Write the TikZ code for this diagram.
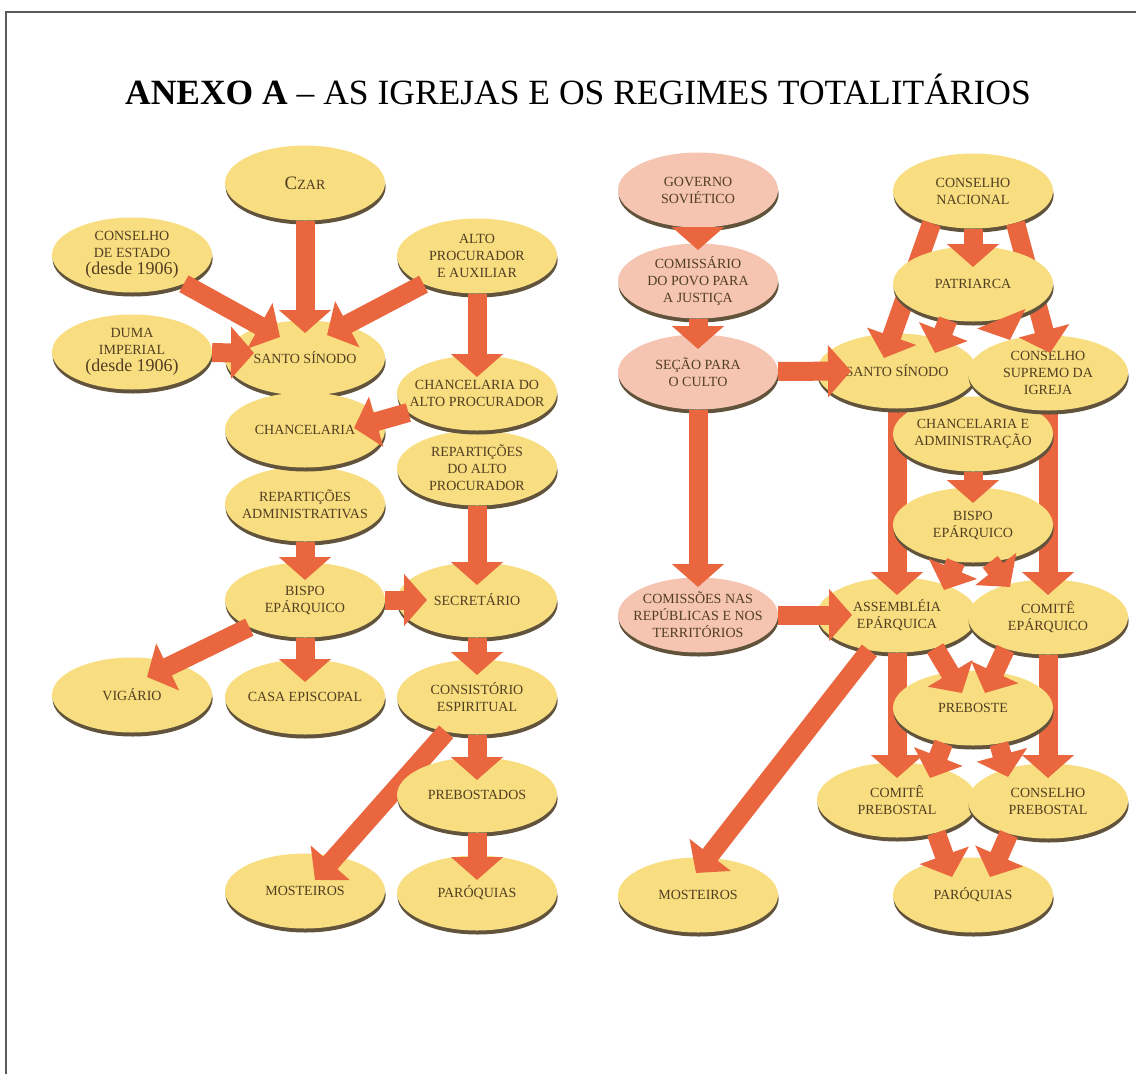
\documentclass[tikz,border=0pt]{standalone}
\usepackage{fontspec}
\setmainfont{Liberation Serif}
\usetikzlibrary{shapes.geometric,shadows,arrows.meta}

\definecolor{amarelo}{RGB}{248,222,128}
\definecolor{rosa}{RGB}{245,197,178}
\definecolor{laranja}{RGB}{233,102,62}
\definecolor{sombra}{RGB}{98,84,60}
\definecolor{texto}{RGB}{82,62,34}
\definecolor{moldura}{RGB}{90,90,90}

\pgfdeclarelayer{mid}
\pgfdeclarelayer{top}
\pgfdeclarelayer{front}
\pgfsetlayers{main,mid,top,front}

\tikzset{
  bolha/.style={ellipse, fill=amarelo, minimum width=160pt, minimum height=75pt,
    inner xsep=-30pt, inner ysep=-8pt, align=center, text=texto,
    font=\fontsize{14}{17}\selectfont,
    drop shadow={shadow xshift=0.6pt, shadow yshift=-4pt, fill=sombra, opacity=1}},
  bolharosa/.style={bolha, fill=rosa},
  seta/.style={draw=laranja, line width=19pt, -{Triangle[width=51pt,length=23pt]}}
}

\newcommand{\ano}{{\fontsize{18}{19}\selectfont (desde 1906)}}

\begin{document}
\begin{tikzpicture}[x=1pt,y=-1pt]
  \useasboundingbox (0,0) rectangle (1136,1074);
  \draw[moldura, line width=2pt] (6,1074) -- (6,12) -- (1136,12);

  \node[anchor=base, font=\fontsize{35.5}{40}\selectfont] (titulo) at (578,104)
    {\textbf{ANEXO A} -- AS IGREJAS E OS REGIMES TOTALITÁRIOS};

  % Russia imperial
  \node[bolha] (czar) at (305,183) {{\fontsize{19}{20}\selectfont C}ZAR};
  \node[bolha] (cestado) at (132,255) {CONSELHO\\DE ESTADO\\\ano};
  \node[bolha] (alto) at (477,256) {ALTO\\PROCURADOR\\E AUXILIAR};
  \node[bolha] (duma) at (132,352) {DUMA\\IMPERIAL\\\ano};
  \node[bolha] (sinodoA) at (305,358) {SANTO SÍNODO};
  \node[bolha] (repAlto) at (477,468) {REPARTIÇÕES\\DO ALTO\\PROCURADOR};
  \node[bolha] (chancAlto) at (477,393) {CHANCELARIA DO\\ALTO PROCURADOR};
  \node[bolha] (repAdm) at (305,504) {REPARTIÇÕES\\ADMINISTRATIVAS};
  \node[bolha] (chanc) at (305,430) {CHANCELARIA};
  \node[bolha] (bispoA) at (305,600) {BISPO\\EPÁRQUICO};
  \node[bolha] (secret) at (477,600) {SECRETÁRIO};
  \node[bolha] (vigario) at (132,695) {VIGÁRIO};
  \node[bolha] (casa) at (305,697) {CASA EPISCOPAL};
  \node[bolha] (consist) at (477,697) {CONSISTÓRIO\\ESPIRITUAL};
  \node[bolha] (mostA) at (305,891) {MOSTEIROS};
  \node[bolha] (parA) at (477,893) {PARÓQUIAS};
  \begin{pgfonlayer}{mid}
    \node[bolha] (prebos) at (477,795) {PREBOSTADOS};
  \end{pgfonlayer}

  % Russia sovietica
  \node[bolharosa] (governo) at (698,190) {GOVERNO\\SOVIÉTICO};
  \node[bolharosa] (comissario) at (698,281) {COMISSÁRIO\\DO POVO PARA\\A JUSTIÇA};
  \node[bolharosa] (secao) at (698,372) {SEÇÃO PARA\\O CULTO};
  \node[bolharosa] (comissoes) at (698,615) {COMISSÕES NAS\\REPÚBLICAS E NOS\\TERRITÓRIOS};
  \node[bolha] (cnac) at (973,191) {CONSELHO\\NACIONAL};
  \node[bolha] (assembleia) at (897,615) {ASSEMBLÉIA\\EPÁRQUICA};
  \node[bolha] (comiteEp) at (1048,617) {COMITÊ\\EPÁRQUICO};
  \node[bolha] (comitePreb) at (897,800) {COMITÊ\\PREBOSTAL};
  \node[bolha] (conselhoPreb) at (1048,801) {CONSELHO\\PREBOSTAL};
  \node[bolha] (mostB) at (698,895) {MOSTEIROS};
  \node[bolha] (parB) at (973,895) {PARÓQUIAS};
  \begin{pgfonlayer}{mid}
    \node[bolha] (chancAdm) at (973,434) {CHANCELARIA E\\ADMINISTRAÇÃO};
    \node[bolha] (bispoB) at (973,525) {BISPO\\EPÁRQUICO};
    \node[bolha] (preboste) at (973,708) {PREBOSTE};
  \end{pgfonlayer}
  \begin{pgfonlayer}{top}
    \node[bolha] (sinodoB) at (897,371) {SANTO SÍNODO};
    \node[bolha] (csupremo) at (1048,373) {CONSELHO\\SUPREMO DA\\IGREJA};
  \end{pgfonlayer}
  \begin{pgfonlayer}{front}
    \node[bolha] (patriarca) at (973,284) {PATRIARCA};
  \end{pgfonlayer}

  % setas
  \draw[seta] (czar) -- ([shift={(0,-25)}]sinodoA.center);
  \draw[seta] (cestado) -- ([shift={(-25,-21)}]sinodoA.center);
  \draw[seta] (alto) -- ([shift={(22,-23)}]sinodoA.center);
  \draw[seta] (duma) -- ([shift={(-51,-5)}]sinodoA.center);
  \draw[seta] (alto) -- ([shift={(0,-16)}]chancAlto.center);
  \draw[seta] (chancAlto) -- ([shift={(49,-2)}]chanc.center);
  \draw[seta] (repAlto) -- ([shift={(0,-15)}]secret.center);
  \draw[seta] (repAdm) -- ([shift={(0,-20)}]bispoA.center);
  \draw[seta] (bispoA) -- ([shift={(-50,0)}]secret.center);
  \draw[seta] (bispoA) -- ([shift={(15,-18)}]vigario.center);
  \draw[seta] (bispoA) -- ([shift={(0,-15)}]casa.center);
  \draw[seta] (secret) -- ([shift={(0,-22)}]consist.center);
  \draw[seta] (consist) -- ([shift={(10,-11)}]mostA.center);
  \begin{pgfonlayer}{mid}
    \draw[seta] (consist) -- ([shift={(0,-15)}]prebos.center);
    \draw[seta] (prebos) -- ([shift={(0,-13)}]parA.center);
  \end{pgfonlayer}

  \draw[seta] (governo) -- ([shift={(0,-31)}]comissario.center);
  \draw[seta] (comissario) -- ([shift={(0,-23)}]secao.center);
  \draw[seta] (secao) -- ([shift={(0,-28)}]comissoes.center);
  \draw[seta] (comissoes) -- ([shift={(-45,0)}]assembleia.center);
  \draw[seta] (sinodoB) -- ([shift={(0,-20)}]assembleia.center);
  \draw[seta] (csupremo) -- ([shift={(0,-22)}]comiteEp.center);
  \draw[seta] (assembleia) -- ([shift={(0,-22)}]comitePreb.center);
  \draw[seta] (comiteEp) -- ([shift={(0,-23)}]conselhoPreb.center);
  \draw[seta] (assembleia) -- ([shift={(-2,-22)}]mostB.center);
  \draw[seta] (comitePreb.-40) -- ([shift={(-21,-18)}]parB.center);
  \draw[seta] (conselhoPreb.-140) -- ([shift={(17,-18)}]parB.center);
  \begin{pgfonlayer}{mid}
    \draw[seta] (chancAdm) -- ([shift={(0,-22)}]bispoB.center);
    \draw[seta] (bispoB.-115) -- ([shift={(47,-25)}]assembleia.center);
    \draw[seta] (bispoB.-65) -- ([shift={(-38,-30)}]comiteEp.center);
    \draw[seta] (assembleia.-41) -- ([shift={(-11,-15)}]preboste.center);
    \draw[seta] (comiteEp.-143) -- ([shift={(12,-15)}]preboste.center);
    \draw[seta] (preboste.-130) -- ([shift={(33,-22)}]comitePreb.center);
    \draw[seta] (preboste.-54) -- ([shift={(-40,-24)}]conselhoPreb.center);
  \end{pgfonlayer}
  \begin{pgfonlayer}{top}
    \draw[seta] (secao) -- ([shift={(-46,0)}]sinodoB.center);
    \draw[seta] (cnac.-142) -- ([shift={(-13,-13)}]sinodoB.center);
    \draw[seta] (cnac.-37) -- ([shift={(2,-20)}]csupremo.center);
  \end{pgfonlayer}
  \begin{pgfonlayer}{front}
    \draw[seta] (cnac) -- ([shift={(0,-17)}]patriarca.center);
    \draw[seta] (patriarca.-125) -- ([shift={(38,-18)}]sinodoB.center);
    \draw[seta] (patriarca.-51) -- ([shift={(-38,-33)}]csupremo.center);
  \end{pgfonlayer}
\end{tikzpicture}
\end{document}
